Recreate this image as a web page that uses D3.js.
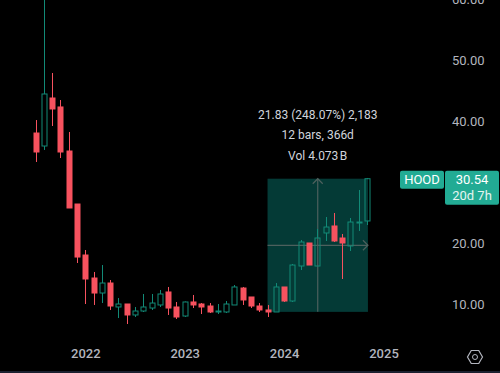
<!DOCTYPE html>
<html>
<head>
<meta charset="utf-8">
<script src="https://cdn.jsdelivr.net/npm/d3@7"></script>
<style>
  html, body { margin: 0; padding: 0; background: #000; }
  svg { display: block; }
  text { font-family: Roboto, "Open Sans", sans-serif; }
  .domain, .tick line { display: none; }
</style>
</head>
<body>
<div class="container"></div>
<script>
const WIDTH = 500;
const HEIGHT = 373;

const months = [
  '2021-07','2021-08','2021-09','2021-10','2021-11','2021-12',
  '2022-01','2022-02','2022-03','2022-04','2022-05','2022-06','2022-07','2022-08','2022-09','2022-10','2022-11','2022-12',
  '2023-01','2023-02','2023-03','2023-04','2023-05','2023-06','2023-07','2023-08','2023-09','2023-10','2023-11','2023-12',
  '2024-01','2024-02','2024-03','2024-04','2024-05','2024-06','2024-07','2024-08','2024-09','2024-10','2024-11','2024-12',
  '2025-01'
];
const opens = [38.03,35.90,43.77,42.30,35.08,26.39,18.03,14.26,11.80,13.44,9.51,10.00,8.20,8.85,9.34,9.84,11.97,9.51,8.03,10.33,10.00,9.67,8.69,8.69,9.84,12.62,11.15,9.67,9.02,8.69,12.79,10.49,16.23,20.00,16.23,21.64,22.79,20.82,19.51,23.28,23.61];
const highs = [40.16,70.00,47.87,43.44,38.20,26.39,18.85,15.25,16.39,13.93,10.98,10.00,9.51,11.64,11.64,12.30,12.79,10.33,10.41,11.48,10.16,10.16,10.00,10.49,13.11,12.79,11.15,10.16,9.84,13.44,12.79,16.56,20.49,20.00,22.30,24.26,24.92,21.48,24.10,28.69,30.66];
const lows = [33.28,35.25,39.18,33.93,25.74,16.72,10.00,9.84,10.16,9.02,7.70,6.72,7.87,8.69,9.02,9.51,8.20,7.54,7.87,9.34,8.36,8.52,8.36,8.52,9.84,9.84,9.34,8.69,7.87,8.69,10.33,10.33,15.57,16.39,16.23,20.33,20.16,14.10,18.69,21.97,22.95];
const closes = [34.92,44.43,41.97,34.92,25.74,17.70,14.10,11.80,13.44,9.67,10.00,8.20,8.85,9.51,10.16,11.64,9.34,7.87,10.33,9.84,9.51,8.69,8.85,10.00,12.79,10.66,9.67,9.02,8.69,12.79,10.49,16.39,20.16,16.39,20.82,22.62,20.33,20.00,23.44,23.44,30.54];

const shownPriceTicks = [10, 20, 40, 50, 60];
const yearTicks = ['2022-01', '2023-01', '2024-01', '2025-01'];

const measureStart = '2023-11';
const measureEnd = '2024-11';
const measureFrom = 8.71;
const measureTo = 30.54;
const measureLines = ['21.83 (248.07%) 2,183', '12 bars, 366d', 'Vol 4.073\u202fB'];

const RED = '#f7525f';
const GREEN = '#128a77';
const TAG = '#22ab94';
const AXIS_TEXT = '#b2b5be';

const x = d3.scalePoint().domain(months).range([35.6, 383.5]);
const y = d3.scaleLinear().domain([10, 60]).range([304, -1]);

const chart = d3.select('.container').append('svg')
  .attr('width', WIDTH)
  .attr('height', HEIGHT);

chart.append('rect').attr('width', WIDTH).attr('height', HEIGHT).attr('fill', '#000');

chart.append('defs').append('clipPath').attr('id', 'plot')
  .append('rect').attr('width', 397).attr('height', 340);

const plot = chart.append('g').attr('clip-path', 'url(#plot)');

// measure box sits behind the candles
const mx0 = x(measureStart), mx1 = x(measureEnd) + 1;
const my0 = y(measureTo), my1 = y(measureFrom);
const mxMid = (mx0 + mx1) / 2, myMid = (my0 + my1) / 2;

plot.append('rect')
  .attr('x', mx0).attr('y', my0)
  .attr('width', mx1 - mx0).attr('height', my1 - my0)
  .attr('fill', '#043a36');

const arrows = plot.append('g')
  .attr('fill', 'none').attr('stroke', '#4d605d').attr('stroke-width', 1.2);
arrows.append('path').attr('d', d3.line()([[mx0, myMid], [mx1, myMid]]));
arrows.append('path').attr('d', d3.line()([[mxMid, my1], [mxMid, my0]]));
arrows.append('path').attr('d', d3.line()([[mx1 - 5, myMid - 5], [mx1, myMid], [mx1 - 5, myMid + 5]]));
arrows.append('path').attr('d', d3.line()([[mxMid - 5, my0 + 5], [mxMid, my0], [mxMid + 5, my0 + 5]]));

const bars = months.slice(0, closes.length).map(function (m, i) {
  return { month: m, o: opens[i], h: highs[i], l: lows[i], c: closes[i], up: closes[i] >= opens[i] };
});

const candle = plot.selectAll('g.candle')
  .data(bars)
  .enter().append('g')
  .classed('candle', true);

// wicks stop at the body so hollow candles stay hollow
candle.append('path')
  .attr('stroke', function (d) { return d.up ? GREEN : RED; })
  .attr('stroke-width', 1)
  .attr('fill', 'none')
  .attr('d', function (d) {
    const px = Math.round(x(d.month)) + 0.5;
    const top = Math.max(d.o, d.c), bottom = Math.min(d.o, d.c);
    return 'M' + px + ',' + y(d.h) + 'V' + y(top) + 'M' + px + ',' + y(bottom) + 'V' + y(d.l);
  });

candle.append('rect')
  .attr('x', function (d) { return Math.round(x(d.month)) - 2; })
  .attr('width', 5)
  .attr('y', function (d) { return y(Math.max(d.o, d.c)); })
  .attr('height', function (d) { return Math.max(1, Math.abs(y(d.o) - y(d.c))); })
  .attr('fill', function (d) { return d.up ? 'none' : RED; })
  .attr('stroke', function (d) { return d.up ? GREEN : RED; })
  .attr('stroke-width', 1);

plot.append('g')
  .selectAll('text')
  .data(measureLines)
  .enter().append('text')
  .attr('x', mxMid)
  .attr('y', function (d, i) { return 118.5 + i * 20.5; })
  .attr('text-anchor', 'middle')
  .attr('font-size', 12)
  .attr('fill', '#d1d4dc')
  .text(function (d) { return d; });

// axes
const yAxis = d3.axisRight(y)
  .tickValues(shownPriceTicks)
  .tickSize(0)
  .tickFormat(d3.format('.2f'));

chart.append('g')
  .attr('transform', 'translate(452,0)')
  .call(yAxis)
  .call(function (g) {
    g.selectAll('text').attr('x', 0).attr('font-size', 13).attr('fill', AXIS_TEXT)
      .style('font-family', 'Roboto, sans-serif');
  });

const xAxis = d3.axisBottom(x)
  .tickValues(yearTicks)
  .tickSize(0)
  .tickFormat(function (d) { return d.slice(0, 4); });

chart.append('g')
  .attr('transform', 'translate(0,349)')
  .call(xAxis)
  .call(function (g) {
    g.selectAll('text').attr('y', 0).attr('font-size', 13).attr('font-weight', 500).attr('fill', AXIS_TEXT)
      .style('font-family', 'Roboto, sans-serif');
  });

// last price tags
const tags = chart.append('g');
tags.append('rect').attr('x', 400).attr('y', y(30.54) - 8).attr('width', 44).attr('height', 18).attr('rx', 2).attr('fill', TAG);
tags.append('rect').attr('x', 445).attr('y', y(30.54) - 8).attr('width', 54).attr('height', 34).attr('rx', 2).attr('fill', TAG);
tags.append('text').attr('x', 422).attr('y', y(30.54) + 5).attr('text-anchor', 'middle')
  .attr('font-size', 13).attr('fill', '#fff').text('HOOD');
tags.append('text').attr('x', 472).attr('y', y(30.54) + 5).attr('text-anchor', 'middle')
  .attr('font-size', 13).attr('fill', '#fff').text(d3.format('.2f')(closes[closes.length - 1]));
tags.append('text').attr('x', 472).attr('y', y(30.54) + 21).attr('text-anchor', 'middle')
  .attr('font-size', 13).attr('fill', '#e4f5f1').text('20d 7h');

// settings icon
const hexagon = d3.line()(d3.range(6).map(function (i) {
  const a = Math.PI / 3 * i;
  return [475 + 7.5 * Math.cos(a), 357 + 7.5 * Math.sin(a)];
})) + 'Z';
chart.append('path').attr('d', hexagon).attr('fill', 'none').attr('stroke', '#b2b5be').attr('stroke-width', 1.2);
chart.append('circle').attr('cx', 475).attr('cy', 357).attr('r', 2.5).attr('fill', 'none').attr('stroke', '#b2b5be');

// bottom edge of the window
chart.append('rect').attr('x', 0).attr('y', 371).attr('width', WIDTH).attr('height', 2).attr('fill', '#1b2130');
</script>
</body>
</html>
